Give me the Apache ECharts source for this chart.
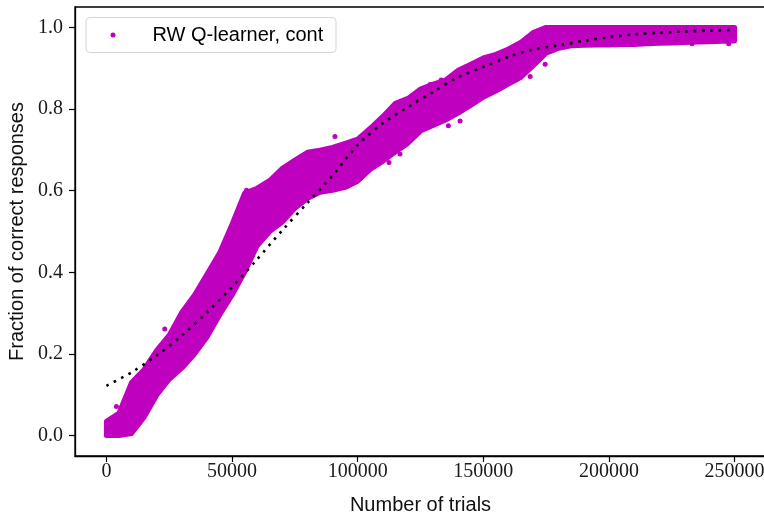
<!DOCTYPE html>
<html>
<head>
<meta charset="utf-8">
<script src="https://cdn.jsdelivr.net/npm/echarts@6/dist/echarts.min.js"></script>
<style>
  html, body { margin: 0; padding: 0; background: #fff; overflow: hidden; }
  #chart { width: 766px; height: 517px; }
</style>
</head>
<body>
<div id="chart"></div>
<script>
// band of the scatter cloud, read every 5000 trials (centres of the dots)
const trials = [
  0, 5000, 10000, 15000, 20000, 25000, 30000, 35000, 40000, 45000,
  50000, 55000, 60000, 65000, 70000, 75000, 80000, 85000, 90000, 95000,
  100000, 105000, 110000, 115000, 120000, 125000, 130000, 135000, 140000, 145000,
  150000, 155000, 160000, 165000, 170000, 175000, 180000, 185000, 190000, 195000,
  200000, 205000, 210000, 215000, 220000, 225000, 230000, 235000, 240000, 245000,
  250000
]
const bandLow = [
  0, 0, 0.005, 0.045, 0.099, 0.138, 0.165, 0.199, 0.241, 0.295,
  0.344, 0.400, 0.465, 0.500, 0.523, 0.557, 0.581, 0.596, 0.601, 0.608,
  0.623, 0.652, 0.672, 0.695, 0.716, 0.746, 0.760, 0.773, 0.790, 0.809,
  0.829, 0.844, 0.861, 0.878, 0.907, 0.937, 0.949, 0.955, 0.956, 0.957,
  0.957, 0.958, 0.958, 0.960, 0.961, 0.962, 0.963, 0.964, 0.965, 0.966,
  0.967
]
const bandHigh = [
  0.035, 0.055, 0.130, 0.162, 0.209, 0.246, 0.302, 0.344, 0.395, 0.447,
  0.518, 0.594, 0.606, 0.625, 0.655, 0.675, 0.694, 0.699, 0.706, 0.716,
  0.726, 0.753, 0.782, 0.814, 0.826, 0.849, 0.861, 0.871, 0.895, 0.910,
  0.925, 0.934, 0.947, 0.964, 0.988, 1.0, 1.0, 1.0, 1.0, 1.0,
  1.0, 1.0, 1.0, 1.0, 1.0, 1.0, 1.0, 1.0, 1.0, 1.0,
  1.0
]

// loose dots sticking out of the cloud
const strayX = [3980, 23230, 55780, 55780, 90950, 112460, 116850, 136100, 140750,
  168640, 174620, 233060, 247650, 128800, 133200, 144070, 158700, 162670]
const strayY = [0.071, 0.261, 0.601, 0.582, 0.733, 0.669, 0.690, 0.759, 0.771,
  0.880, 0.910, 0.960, 0.960, 0.860, 0.871, 0.900, 0.940, 0.953]

// dotted fit curve
const fitX = [0, 10000, 20000, 30000, 40000, 50000, 60000, 70000, 80000, 90000,
  100000, 110000, 120000, 130000, 140000, 150000, 160000, 170000, 180000, 190000,
  200000, 210000, 220000, 230000, 240000, 250000]
const fitY = [0.122, 0.155, 0.196, 0.245, 0.302, 0.364, 0.432, 0.503, 0.570, 0.637,
  0.712, 0.765, 0.805, 0.842, 0.878, 0.903, 0.928, 0.946, 0.956, 0.967,
  0.976, 0.983, 0.987, 0.990, 0.992, 0.994]

const xTicks = [0, 50000, 100000, 150000, 200000, 250000]
const yTicks = [0, 0.2, 0.4, 0.6, 0.8, 1.0]

const MAGENTA = '#bf00bf'
const tickFont = { fontFamily: 'Liberation Serif', fontSize: 20, color: '#1a1a1a' }
const nameFont = { fontFamily: 'Liberation Sans', fontSize: 20, color: '#111' }

const chart = echarts.init(document.getElementById('chart'))

chart.setOption({
  animation: false,
  backgroundColor: '#fff',
  grid: {
    left: 75, right: 0, top: 7, bottom: 61,
    outerBoundsMode: 'none',
    show: true, borderColor: '#000', borderWidth: 1.3, backgroundColor: 'transparent',
  },
  graphic: [{
    type: 'rect',
    z: 3,
    shape: { x: 86, y: 17.5, width: 250, height: 35, r: 4 },
    style: { fill: 'rgba(255,255,255,0.8)', stroke: '#d4d4d4', lineWidth: 1 },
  }],
  legend: {
    data: ['RW Q-learner, cont'],
    left: 110.5, top: 25, padding: 0, z: 4,
    icon: 'circle', itemWidth: 5, itemHeight: 5,
    textStyle: { ...nameFont, color: '#000', padding: [0, 0, 0, 32] },
  },
  xAxis: {
    type: 'value', min: -12500, max: 262500, z: 10,
    name: 'Number of trials', nameLocation: 'middle', nameGap: 39, nameTextStyle: nameFont,
    splitLine: { show: false },
    axisLine: { show: true, onZero: false, lineStyle: { color: '#000', width: 1.3 } },
    axisTick: { show: true, length: 6, lineStyle: { color: '#000', width: 1.2 }, customValues: xTicks },
    axisLabel: { ...tickFont, margin: 6, customValues: xTicks, formatter: (v) => String(v) },
  },
  yAxis: {
    type: 'value', min: -0.05, max: 1.05, z: 10,
    name: 'Fraction of correct responses', nameLocation: 'middle', nameGap: 46, nameTextStyle: nameFont,
    splitLine: { show: false },
    axisLine: { show: true, onZero: false, lineStyle: { color: '#000', width: 1.3 } },
    axisTick: { show: true, length: 6, lineStyle: { color: '#000', width: 1.2 }, customValues: yTicks },
    axisLabel: { ...tickFont, margin: 12, customValues: yTicks, formatter: (v) => v.toFixed(1) },
  },
  series: [
    {
      // the dense cloud: polygon between the top and bottom edges
      name: 'cloud',
      type: 'custom',
      data: [0],
      renderItem: (params, api) => {
        const top = trials.map((t, i) => api.coord([t, bandHigh[i]]))
        const bottom = trials.map((t, i) => api.coord([t, bandLow[i]])).reverse()
        return {
          type: 'polygon',
          shape: { points: top.concat(bottom) },
          style: { fill: MAGENTA, stroke: MAGENTA, lineWidth: 5, lineJoin: 'round' },
        }
      },
      z: 2,
    },
    {
      name: 'RW Q-learner, cont',
      type: 'scatter',
      data: strayX.map((x, i) => [x, strayY[i]]),
      symbolSize: 5,
      itemStyle: { color: MAGENTA, opacity: 1 },
      z: 3,
    },
    {
      name: 'fit',
      type: 'line',
      data: fitX.map((x, i) => [x, fitY[i]]),
      smooth: 0.3,
      showSymbol: false,
      lineStyle: { color: '#000', width: 2.6, type: [2.6, 5.7], cap: 'butt' },
      z: 5,
    },
  ],
})
</script>
</body>
</html>
